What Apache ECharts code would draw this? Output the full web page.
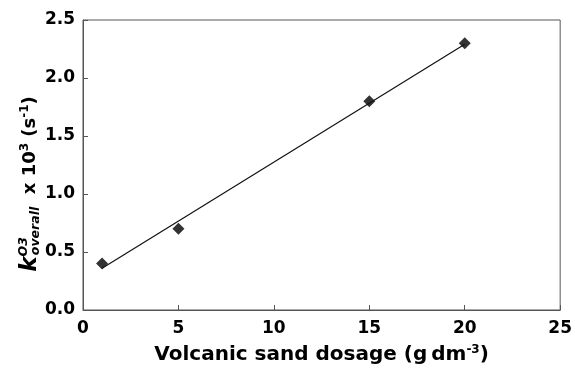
<!DOCTYPE html>
<html><head><meta charset="utf-8">
<script src="https://cdn.jsdelivr.net/npm/echarts@6/dist/echarts.min.js"></script>
<style>html,body{margin:0;padding:0;background:#fff}#c{width:575px;height:370px}</style>
</head><body><div id="c"></div>
<script>
// Data
const dosage = [1, 5, 15, 20];
const kOverall = [0.4, 0.7, 1.8, 2.3];
const fitX = [1, 20];
const fitY = [0.36, 2.29];
const xTicks = [0, 5, 10, 15, 20, 25];
const yTicks = [0.0, 0.5, 1.0, 1.5, 2.0, 2.5];

const chart = echarts.init(document.getElementById('c'), null, {renderer: 'canvas'});
const FONT = 'DejaVu Sans, Liberation Sans, sans-serif';
const axisCol = '#555';
chart.setOption({
  animation: false,
  backgroundColor: '#fff',
  grid: {left: 83, right: 13, top: 20, bottom: 58, show: true, borderColor: axisCol, borderWidth: 1, containLabel: false},
  xAxis: {
    type: 'value', min: xTicks[0], max: xTicks[xTicks.length - 1], interval: 5,
    axisLine: {show: true, lineStyle: {color: axisCol, width: 1}},
    axisTick: {show: true, inside: true, length: 5, lineStyle: {color: axisCol}},
    splitLine: {show: false},
    axisLabel: {color: '#000', fontFamily: FONT, fontWeight: 'bold', fontSize: 17, margin: 10},
    name: 'Volcanic sand dosage (g\u2009dm{sup|-3})',
    nameLocation: 'middle', nameGap: 34,
    nameTextStyle: {color: '#000', fontFamily: FONT, fontWeight: 'bold', fontSize: 20,
      rich: {sup: {fontSize: 12, fontFamily: FONT, fontWeight: 'bold', color: '#000', verticalAlign: 'top', lineHeight: 22, padding: [0, 0, 9, 0]}}}
  },
  yAxis: {
    type: 'value', min: yTicks[0], max: yTicks[yTicks.length - 1], interval: 0.5,
    axisLine: {show: true, lineStyle: {color: axisCol, width: 1}},
    axisTick: {show: true, inside: true, length: 5, lineStyle: {color: axisCol}},
    splitLine: {show: false},
    axisLabel: {color: '#000', fontFamily: FONT, fontWeight: 'bold', fontSize: 17, margin: 8,
      formatter: v => v.toFixed(1)}
  },
  graphic: [{
    type: 'text', x: 30, y: 184, rotation: Math.PI / 2,
    style: {
      text: '{k|k}{sups|O3}{sub|overall}{n|  x 10}{sup|3}{n| (s}{sup|-1}{n|)}',
      align: 'center', verticalAlign: 'middle',
      rich: {
        k: {fontFamily: FONT, fontWeight: 'bold', fontStyle: 'italic', fontSize: 23, fill: '#000', lineHeight: 28},
        sups: {fontFamily: FONT, fontWeight: 'bold', fontStyle: 'italic', fontSize: 12.5, fill: '#000', lineHeight: 28, padding: [0, 0, 13, 0]},
        sub: {fontFamily: FONT, fontWeight: 'bold', fontStyle: 'italic', fontSize: 12.5, fill: '#000', lineHeight: 28, padding: [11, 0, 0, -18]},
        n: {fontFamily: FONT, fontWeight: 'bold', fontSize: 18, fill: '#000', lineHeight: 28},
        sup: {fontFamily: FONT, fontWeight: 'bold', fontSize: 12, fill: '#000', lineHeight: 28, padding: [0, 0, 11, 0]}
      }
    }
  }],
  series: [
    {type: 'line', data: fitX.map((x, i) => [x, fitY[i]]), symbol: 'none', silent: true,
     lineStyle: {color: '#111', width: 1.2}},
    {type: 'scatter', data: dosage.map((x, i) => [x, kOverall[i]]), symbol: 'diamond', symbolSize: 12,
     itemStyle: {color: '#000'}}
  ]
});
</script></body></html>
